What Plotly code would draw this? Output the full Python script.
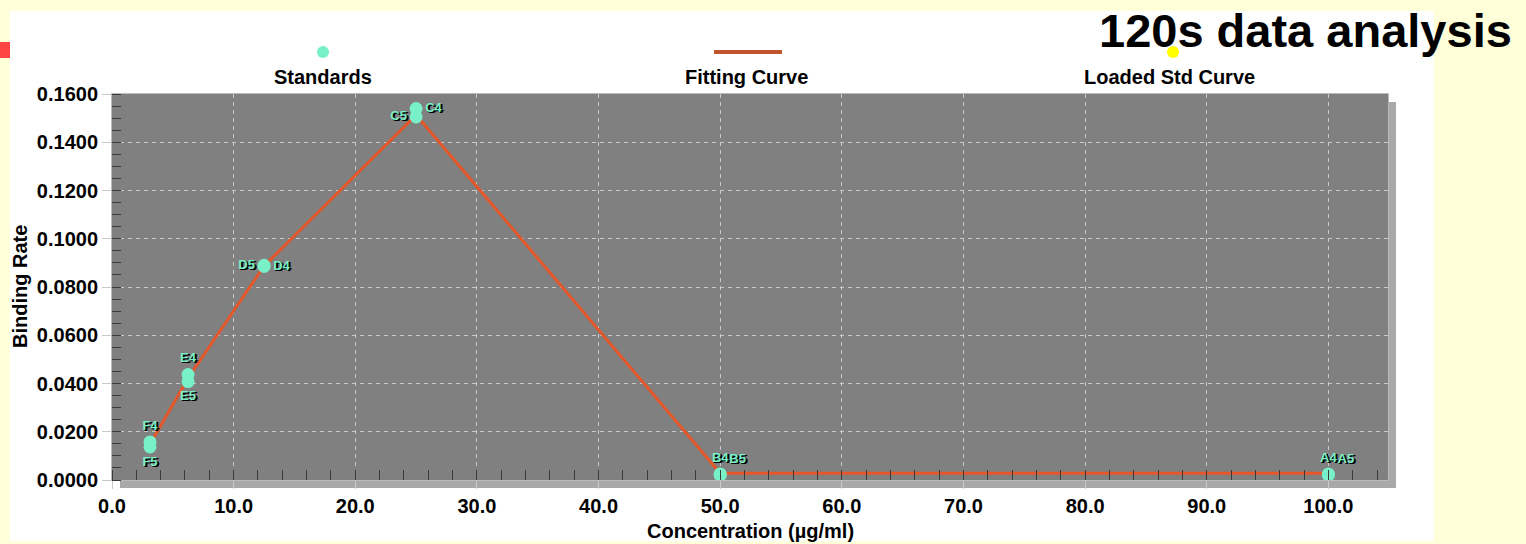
import plotly.graph_objects as go

# ---------------- data ----------------
concentration = [3.125, 3.125, 6.25, 6.25, 12.5, 12.5, 25, 25, 50, 50, 100, 100]
wells = ["F4", "F5", "E4", "E5", "D4", "D5", "C4", "C5", "B4", "B5", "A4", "A5"]
binding_rate = [0.0158, 0.0137, 0.0437, 0.0408, 0.0885, 0.0890, 0.1540, 0.1505,
                0.0025, 0.0020, 0.0025, 0.0020]
label_pos = ["top center", "bottom center", "top center", "bottom center",
             "middle right", "middle left", "middle right", "middle left",
             "top center", "top right", "top center", "top right"]

fit_conc = [3.125, 6.25, 12.5, 25, 50, 100]
fit_rate = [0.0148, 0.0422, 0.0887, 0.1513, 0.0028, 0.0028]

legend_names = ["Standards", "Fitting Curve", "Loaded Std Curve"]
title_text = "120s data analysis"
x_title = "Concentration (µg/ml)"
y_title = "Binding Rate"

# ---------------- layout geometry ----------------
W, H = 1526, 544
L, R, T, B = 112, 1388, 94, 480
PW, PH = R - L, B - T


def px(x):
    return (x - L) / PW


def py(y):
    return (B - y) / PH


AQUA = "#78F0C8"
LINE = "#E4572A"
FONT = "Arial, Liberation Sans, sans-serif"

fig = go.Figure()

fig.add_trace(go.Scatter(
    x=fit_conc, y=fit_rate, mode="lines",
    line=dict(color=LINE, width=3), hoverinfo="skip", showlegend=False,
))
fig.add_trace(go.Scatter(
    x=concentration, y=binding_rate, mode="markers+text",
    text=wells, textposition=label_pos,
    textfont=dict(family=FONT, size=13, color=AQUA, weight="bold",
                  shadow="1px 1px 0px #000, 2px 1px 0px #000"),
    marker=dict(color=AQUA, size=13, line=dict(width=0)),
    showlegend=False,
))

shapes = [
    # white panel
    dict(type="rect", xref="paper", yref="paper", layer="below",
         x0=px(10), x1=px(1434), y0=py(541), y1=py(11),
         fillcolor="white", line=dict(width=0)),
    # red square
    dict(type="rect", xref="paper", yref="paper", layer="below",
         x0=px(0), x1=px(10), y0=py(58), y1=py(42),
         fillcolor="#FF4444", line=dict(width=0)),
    # plot shadow right
    dict(type="rect", xref="paper", yref="paper", layer="below",
         x0=px(R), x1=px(R + 8), y0=py(B + 8), y1=py(T + 8),
         fillcolor="#A8A8A8", line=dict(width=0)),
    # plot shadow bottom
    dict(type="rect", xref="paper", yref="paper", layer="below",
         x0=px(L + 8), x1=px(R + 8), y0=py(B + 8), y1=py(B),
         fillcolor="#A8A8A8", line=dict(width=0)),
    # plot area background
    dict(type="rect", xref="paper", yref="paper", layer="below",
         x0=0, x1=1, y0=0, y1=1,
         fillcolor="#808080", line=dict(width=0)),
    # legend symbols
    dict(type="circle", xref="paper", yref="paper",
         x0=px(317), x1=px(329), y0=py(58), y1=py(46),
         fillcolor=AQUA, line=dict(width=0)),
    dict(type="line", xref="paper", yref="paper",
         x0=px(714), x1=px(782), y0=py(52), y1=py(52),
         line=dict(color="#C0532E", width=4)),
    dict(type="circle", xref="paper", yref="paper",
         x0=px(1167), x1=px(1179), y0=py(58), y1=py(46),
         fillcolor="#FFFF00", line=dict(width=0)),
]

annotations = [
    dict(text=legend_names[0], x=px(323), y=py(77)),
    dict(text=legend_names[1], x=px(746), y=py(77)),
    dict(text=legend_names[2], x=px(1169), y=py(77)),
    dict(text=x_title, x=px(750), y=py(531)),
    dict(text=y_title, x=px(20), y=py(287), textangle=-90),
]
for a in annotations:
    a.update(xref="paper", yref="paper", showarrow=False,
             xanchor="center", yanchor="middle",
             font=dict(family=FONT, size=20, color="black", weight="bold"))
annotations.append(dict(
    text=title_text, xref="paper", yref="paper", showarrow=False,
    x=px(1514), y=py(30), xanchor="right", yanchor="middle",
    font=dict(family=FONT, size=47, color="black", weight="bold")))

fig.update_layout(
    width=W, height=H, autosize=False,
    margin=dict(l=L, r=W - R, t=T, b=H - B, pad=0, autoexpand=False),
    paper_bgcolor="#FFFFD9", plot_bgcolor="rgba(0,0,0,0)",
    showlegend=False, shapes=shapes, annotations=annotations,
    font=dict(family=FONT, size=20, color="black"),
)

fig.update_xaxes(
    range=[0, 104.9], tick0=0, dtick=10, tickformat=".1f",
    ticks="outside", ticklen=8, tickcolor="#C8C8C8", tickwidth=1,
    tickfont=dict(family=FONT, size=20, color="black", weight="bold"),
    showgrid=True, gridcolor="#C8C8C8", griddash="4px,4px", gridwidth=1,
    zeroline=False, showline=True, linecolor="#BBBBBB", mirror=True,
    minor=dict(ticks="inside", dtick=2, ticklen=10, tickcolor="#3A3A3A",
               tickwidth=1, showgrid=False),
)
fig.update_yaxes(
    range=[0, 0.16], tick0=0, dtick=0.02, tickformat=".4f",
    ticks="outside", ticklen=9, tickcolor="#C8C8C8", tickwidth=1,
    tickfont=dict(family=FONT, size=20, color="black", weight="bold"),
    showgrid=True, gridcolor="#C8C8C8", griddash="4px,4px", gridwidth=1,
    zeroline=False, showline=True, linecolor="#BBBBBB", mirror=True,
    minor=dict(ticks="inside", dtick=0.005, ticklen=9, tickcolor="#3A3A3A",
               tickwidth=1, showgrid=False),
)

fig.write_html("out.html")
